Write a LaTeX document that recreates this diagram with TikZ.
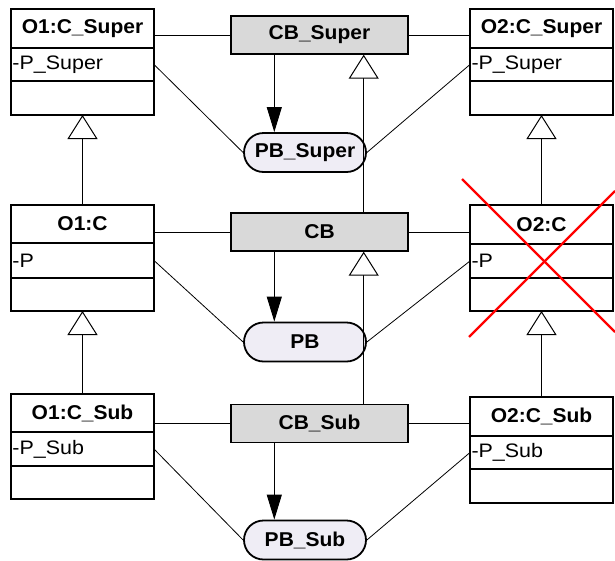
\documentclass[tikz,border=0pt]{standalone}
\usepackage{fontspec}
\setmainfont{Liberation Sans}
\newfontfamily\attrfont[FakeStretch=1.1]{Liberation Sans}
\newfontfamily\midfont[FakeStretch=1.05]{Liberation Sans}
\usetikzlibrary{arrows.meta,shapes.misc}
\definecolor{cbfill}{RGB}{217,217,217}
\definecolor{pbfill}{RGB}{239,237,245}
\definecolor{xred}{RGB}{255,0,0}
\begin{document}
\begin{tikzpicture}[x=1pt,y=-1pt,
  row/.style={draw,line width=1.6pt,anchor=north west,minimum width=143pt,inner sep=0pt,outer sep=0pt},
  ctitle/.style={row,minimum height=#1,font=\midfont\fontsize{20}{21}\selectfont\bfseries},
  cattr/.style={row,minimum height=#1,text width=140pt,align=left,font=\attrfont\fontsize{19.5}{20}\selectfont},
  cops/.style={row,minimum height=#1},
  cbox/.style={draw,line width=1.4pt,fill=cbfill,minimum width=177pt,minimum height=38pt,inner sep=0pt,font=\midfont\fontsize{20}{21}\selectfont\bfseries},
  pbox/.style={draw,line width=1.8pt,fill=pbfill,rounded rectangle,minimum width=122pt,minimum height=39pt,inner sep=0pt,font=\midfont\fontsize{20}{21}\selectfont\bfseries},
  assoc/.style={line width=0.8pt},
  gen/.style={line width=0.8pt,-{Triangle[open,length=24pt,width=30pt,line width=1pt,fill=white]}},
  dep/.style={line width=1pt,-{Triangle[length=25pt,width=15pt]}}]
\useasboundingbox (0,0) rectangle (615,560);

% left column of classes
\node[ctitle=39pt] (o1s) at (11,9) {O1:C\_Super};
\node[cattr=33pt] (o1sa) at (11,48) {-P\_Super};
\node[cops=34pt] (o1so) at (11,81) {};
\node[ctitle=38pt] (o1) at (11,205) {O1:C};
\node[cattr=35pt] (o1a) at (11,243) {-P};
\node[cops=33pt] (o1o) at (11,278) {};
\node[ctitle=38pt] (o1b) at (11,394) {O1:C\_Sub};
\node[cattr=34pt] (o1ba) at (11,432) {-P\_Sub};
\node[cops=33pt] (o1bo) at (11,466) {};

% right column of classes
\node[ctitle=39pt] (o2s) at (470,9) {O2:C\_Super};
\node[cattr=33pt] (o2sa) at (470,48) {-P\_Super};
\node[cops=34pt] (o2so) at (470,81) {};
\node[ctitle=39pt] (o2) at (470,205) {O2:C};
\node[cattr=34pt] (o2a) at (470,244) {-P};
\node[cops=33pt] (o2o) at (470,278) {};
\node[ctitle=39pt] (o2b) at (470,397) {O2:C\_Sub};
\node[cattr=33pt] (o2ba) at (470,436) {-P\_Sub};
\node[cops=34pt] (o2bo) at (470,469) {};

% middle column
\node[cbox] (cbs) at (319.5,35) {CB\_Super};
\node[cbox] (cb) at (319.5,232) {CB};
\node[cbox] (cbb) at (319.5,423.5) {CB\_Sub};
\node[pbox] (pbs) at (305,152.5) {PB\_Super};
\node[pbox] (pb) at (305,342) {PB};
\node[pbox] (pbb) at (305,540) {PB\_Sub};

% associations
\draw[assoc] (cbs.west) -- (cbs.west -| o1s.east);
\draw[assoc] (cbs.east) -- (cbs.east -| o2s.west);
\draw[assoc] (cb.west) -- (cb.west -| o1.east);
\draw[assoc] (cb.east) -- (cb.east -| o2.west);
\draw[assoc] (cbb.west) -- (cbb.west -| o1b.east);
\draw[assoc] (cbb.east) -- (cbb.east -| o2b.west);
\draw[assoc] (o1sa.east) -- (pbs.west);
\draw[assoc] (o2sa.west) -- (pbs.east);
\draw[assoc] (o1a.east) -- (pb.west);
\draw[assoc] (o2a.west) -- (pb.east);
\draw[assoc] (o1ba.east) -- (pbb.west);
\draw[assoc] (o2ba.west) -- (pbb.east);

% generalizations
\draw[gen] (o1.north) -- (o1so.south);
\draw[gen] (o1b.north) -- (o1o.south);
\draw[gen] (o2.north) -- (o2so.south);
\draw[gen] (o2b.north) -- (o2o.south);
\draw[gen] ([xshift=-45pt]cb.north east) -- ([xshift=-45pt]cbs.south east);
\draw[gen] ([xshift=-45pt]cbb.north east) -- ([xshift=-45pt]cb.south east);

% dependencies
\draw[dep] ([xshift=44pt]cbs.south west) -- ([xshift=44pt]cbs.south west |- pbs.north);
\draw[dep] ([xshift=44pt]cb.south west) -- ([xshift=44pt]cb.south west |- pb.north);
\draw[dep] ([xshift=44pt]cbb.south west) -- ([xshift=44pt]cbb.south west |- pbb.north);

% crossed-out class
\draw[xred,line width=2.4pt] (462,179) -- (615,332);
\draw[xred,line width=2.4pt] (469,337) -- (615,191);
\end{tikzpicture}
\end{document}
